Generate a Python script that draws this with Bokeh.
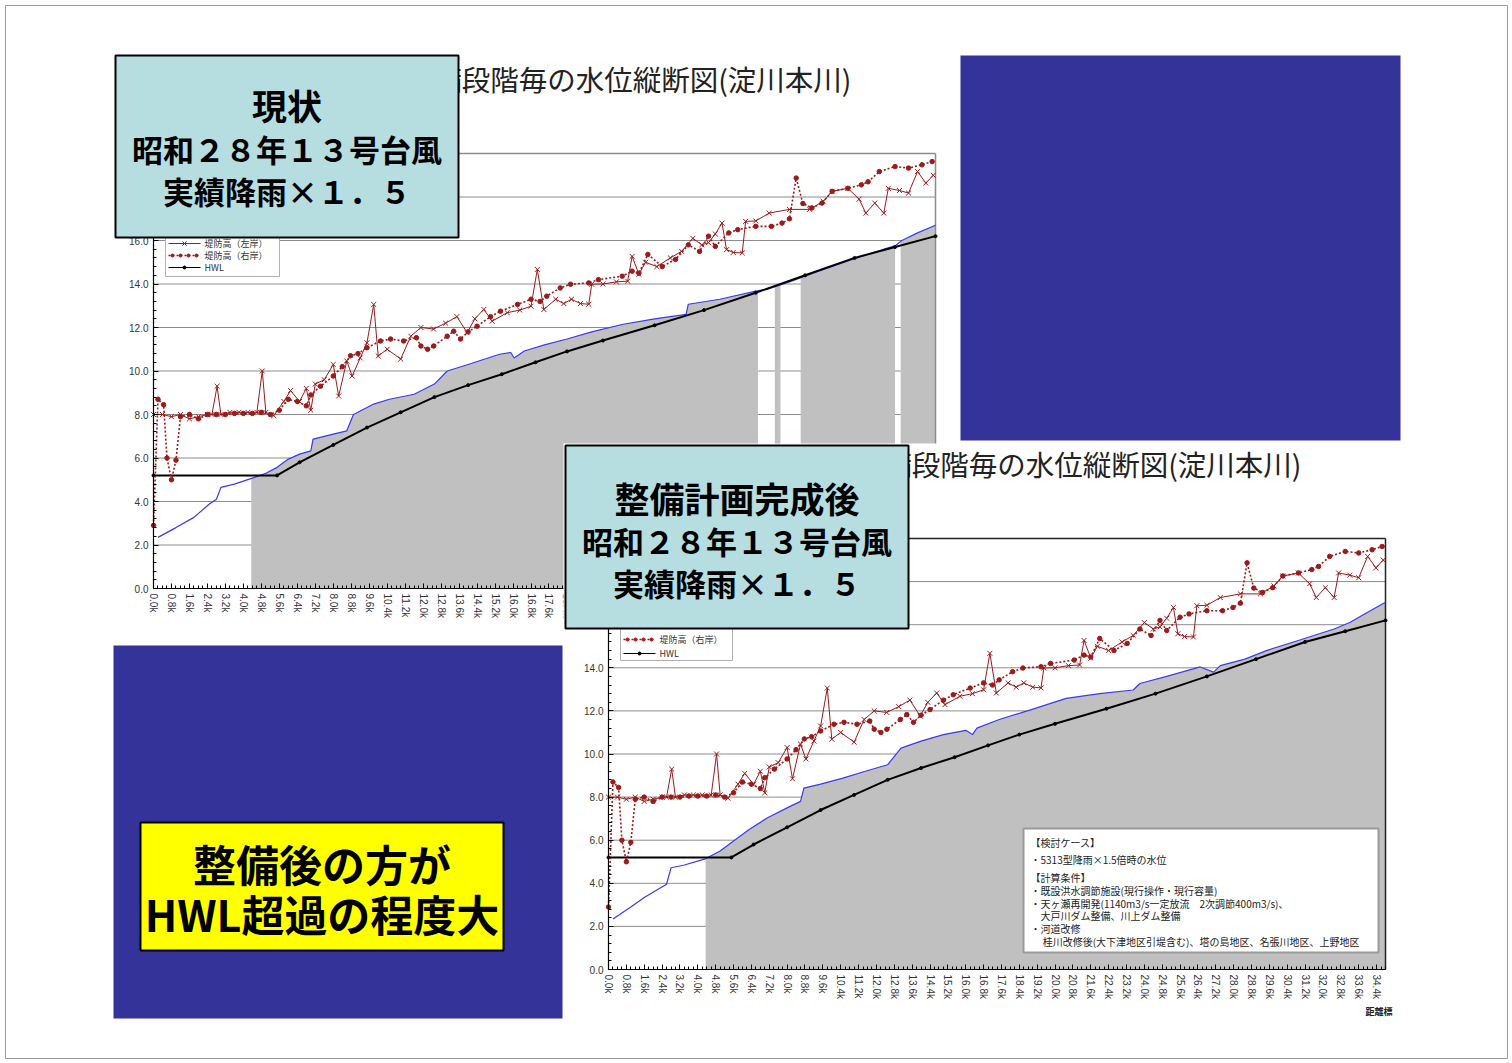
import numpy as np
from bokeh.plotting import figure
from bokeh.models import Range1d, LinearAxis, FixedTicker, PrintfTickFormatter
from bokeh.core.properties import value
from bokeh.embed import file_html
from bokeh.resources import INLINE

# ---------------- data ----------------
# 堤防高（左岸）
left_km = [0.0, 0.4, 0.8, 1.2, 1.6, 2.0, 2.4, 2.6, 2.83, 3.0, 3.4, 3.8, 4.2, 4.6, 4.84, 5.0, 5.35, 5.8, 6.1, 6.5,
           6.8, 7.0, 7.2, 7.6, 8.0, 8.24, 8.6, 8.84, 9.2, 9.5, 9.8, 10.0, 10.4, 11.0, 11.45, 11.9, 12.46, 13.0, 13.5, 13.96,
           14.3, 14.7, 15.07, 15.74, 16.3, 16.8, 17.08, 17.37, 17.9, 18.26, 18.6, 19.0, 19.37, 19.5, 20.0, 20.6, 21.1, 21.3, 21.6, 21.9,
           22.4, 23.0, 23.5, 24.0, 24.4, 24.7, 25.0, 25.3, 25.5, 25.8, 26.2, 26.35, 26.8, 27.4, 28.3, 29.2, 29.8, 30.2, 30.9, 31.4,
           31.7, 32.1, 32.5, 32.7, 33.2, 33.6, 34.0, 34.37, 34.7]
left_bank = [8.0, 8.0, 7.9, 8.0, 7.8, 7.9, 8.0, 8.0, 9.3, 8.0, 8.1, 8.1, 8.1, 8.1, 10.0, 8.1, 7.95, 8.6, 9.1, 8.6,
             9.2, 8.2, 9.4, 9.6, 10.3, 8.85, 10.46, 9.77, 10.6, 11.3, 13.06, 10.69, 11.0, 10.55, 11.6, 12.0, 11.93, 12.2, 12.5, 11.76,
             12.4, 12.83, 12.29, 12.68, 12.8, 12.98, 14.67, 12.83, 13.3, 13.1, 13.3, 13.1, 13.07, 13.99, 14.0, 14.1, 14.13, 15.27, 14.45, 15.0,
             14.8, 15.2, 15.5, 16.1, 15.8, 15.9, 16.3, 16.8, 15.58, 15.45, 15.43, 16.88, 16.9, 17.26, 17.43, 17.43, 17.8, 18.26, 18.4, 17.9,
             17.26, 17.72, 17.26, 18.4, 18.3, 18.18, 19.17, 18.64, 19.0]

# 堤防高（右岸）
right_km = [0.0, 0.2, 0.45, 0.6, 0.8, 1.0, 1.2, 1.6, 2.0, 2.4, 2.8, 3.2, 3.6, 4.0, 4.4, 4.8, 5.2, 5.6, 6.0, 6.4,
            6.8, 7.0, 7.43, 8.0, 8.4, 8.77, 9.1, 9.5, 10.1, 10.55, 11.13, 11.7, 11.9, 12.2, 12.47, 13.07, 13.36, 13.66, 14.0, 14.4,
            15.0, 15.44, 16.2, 16.8, 17.2, 17.5, 18.1, 18.56, 19.37, 19.8, 20.86, 21.3, 21.6, 22.0, 22.64, 23.23, 23.8, 24.3, 24.7, 25.0,
            25.6, 26.0, 26.8, 27.5, 27.97, 28.3, 28.6, 28.9, 29.3, 29.75, 30.2, 30.9, 31.5, 31.8, 32.3, 33.0, 33.6, 34.2, 34.65]
right_bank = [2.9, 8.7, 8.45, 6.0, 5.0, 5.9, 7.9, 8.0, 7.8, 8.0, 8.0, 8.0, 8.05, 8.05, 8.05, 8.1, 8.0, 8.2, 8.7, 8.6,
              8.4, 8.9, 9.3, 9.77, 10.2, 10.7, 10.8, 11.07, 11.38, 11.47, 11.38, 11.53, 11.15, 11.0, 11.15, 11.6, 11.83, 11.47, 11.8, 12.06,
              12.5, 12.75, 13.06, 13.3, 13.2, 13.44, 13.82, 13.99, 14.05, 14.2, 14.36, 14.59, 14.5, 15.36, 14.8, 15.13, 15.8, 15.5, 16.2, 15.73,
              16.35, 16.5, 16.65, 16.65, 16.8, 17.0, 18.87, 17.7, 17.5, 17.72, 18.26, 18.4, 18.56, 18.7, 19.17, 19.4, 19.33, 19.48, 19.63]

# HWL
hwl_km = [0.0, 5.5, 6.5, 8.0, 9.5, 11.0, 12.5, 14.0, 15.5, 17.0, 18.4, 20.0, 22.3, 24.5, 26.8, 29.0, 31.2, 33.0, 34.8]
hwl = [5.2, 5.2, 5.8, 6.6, 7.4, 8.1, 8.8, 9.35, 9.85, 10.4, 10.9, 11.4, 12.1, 12.8, 13.6, 14.4, 15.2, 15.7, 16.2]

# 計算水位（現状）
wl_now_km = [0.2, 1.0, 1.8, 2.5, 2.8, 3.0, 3.6, 4.3, 5.0, 5.5, 6.0, 6.5, 7.0, 7.1, 8.0, 8.6, 8.9, 9.8, 10.5, 11.6,
             12.5, 13.07, 14.0, 15.4, 15.9, 16.05, 16.5, 17.4, 18.4, 19.5, 20.9, 22.3, 23.7, 23.8, 25.2, 26.8, 27.3, 28.3, 29.5, 31.0,
             32.5, 33.0, 33.3, 34.0, 34.8]
wl_now = [2.35, 2.8, 3.27, 3.9, 4.1, 4.65, 4.8, 5.04, 5.3, 5.57, 5.95, 6.18, 6.33, 6.87, 7.1, 7.25, 8.0, 8.48, 8.7, 8.93,
          9.4, 10.0, 10.3, 10.77, 10.85, 10.6, 10.92, 11.2, 11.47, 11.8, 12.15, 12.4, 12.6, 13.07, 13.3, 13.67, 13.75, 14.1, 14.55, 15.1,
          15.6, 15.75, 16.0, 16.35, 16.7]

# 計算水位（整備計画完成後）
wl_plan_km = [0.2, 1.0, 1.6, 2.6, 2.8, 3.4, 4.3, 5.0, 5.6, 6.3, 7.1, 8.0, 8.6, 8.75, 9.5, 10.5, 11.5, 12.5, 13.1, 14.0,
              15.0, 16.0, 16.3, 16.5, 17.5, 18.9, 20.5, 22.0, 23.5, 23.8, 25.0, 26.5, 27.1, 27.4, 28.5, 29.5, 31.0, 32.5, 33.2, 34.0,
              34.8]
wl_plan = [2.34, 2.9, 3.34, 3.96, 4.72, 4.85, 5.12, 5.5, 5.96, 6.5, 7.03, 7.5, 7.8, 8.42, 8.6, 8.88, 9.2, 9.5, 10.27, 10.6,
           10.9, 11.1, 10.9, 11.2, 11.6, 12.05, 12.58, 12.8, 12.97, 13.27, 13.6, 14.04, 13.8, 14.1, 14.4, 14.81, 15.3, 15.8, 16.1, 16.58,
           17.04]

# shaded (gray) sections, km
gray_now = [(4.35, 26.9), (27.65, 27.9), (28.8, 33.0), (33.25, 34.8)]
gray_plan = [(4.35, 34.8)]

x_ticks = [round(0.8 * i, 1) for i in range(44)]
x_minor = [round(0.2 * i, 1) for i in range(175)]
y_ticks = [0, 2, 4, 6, 8, 10, 12, 14, 16, 18, 20]
y_minor = [round(0.4 * i, 1) for i in range(51)]
KM_MAX, Y_MAX = 34.8, 20.0

title_text = "整備段階毎の水位縦断図(淀川本川)"
legend_names = ["堤防高（左岸）", "堤防高（右岸）", "HWL"]
box1_lines = ["現状", "昭和２８年１３号台風", "実績降雨×１．５"]
box2_lines = ["整備計画完成後", "昭和２８年１３号台風", "実績降雨×１．５"]
yellow_lines = ["整備後の方が", "HWL超過の程度大"]
note_lines = ["【検討ケース】", "・5313型降雨×1.5倍時の水位", "【計算条件】",
              "・既設洪水調節施設(現行操作・現行容量)",
              "・天ヶ瀬再開発(1140m3/s一定放流　2次調節400m3/s)、",
              "　大戸川ダム整備、川上ダム整備", "・河道改修",
              "　 桂川改修後(大下津地区引堤含む)、塔の島地区、名張川地区、上野地区"]

# ---------------- page ----------------
W, H = 1512, 1063
JP = "Noto Sans CJK JP"
RED = "#9b1b1b"
BLUE_BOX = "#333399"
CYAN = "#b6dde0"

p = figure(width=W, height=H, x_range=Range1d(0, W), y_range=Range1d(H, 0),
           output_backend="svg", toolbar_location=None, min_border=0,
           x_axis_type=None, y_axis_type=None)
p.outline_line_color = None
p.background_fill_color = "white"
p.border_fill_color = "white"

# slide border
p.quad(left=5, right=1507, top=5, bottom=1058, fill_color=None, line_color="#9a9a9a", line_width=1)


def add_chart_ranges(tag, left, right, bottom, top):
    sx = (right - left) / KM_MAX
    sy = (bottom - top) / Y_MAX
    p.extra_x_ranges[tag + "x"] = Range1d(-left / sx, (W - left) / sx)
    p.extra_y_ranges[tag + "y"] = Range1d((bottom - H) / sy, bottom / sy)


def draw_chart(tag, wl_km, wl, segments, level, axis_level, frame_color):
    kw = dict(x_range_name=tag + "x", y_range_name=tag + "y", level=level)
    gy = y_ticks[1:-1]
    p.segment(x0=0, y0=gy, x1=KM_MAX, y1=gy, line_color="#8c8c8c", line_width=1, **kw)
    for a, b in segments:
        xs = [a] + [k for k in wl_km if a < k < b] + [b]
        ys = list(np.interp(xs, wl_km, wl))
        p.varea(x=xs, y1=0, y2=ys, fill_color="#c0c0c0", **kw)
    p.segment(x0=[0, KM_MAX], y0=[Y_MAX, 0], x1=[KM_MAX, KM_MAX], y1=[Y_MAX, Y_MAX],
              line_color=frame_color, line_width=1.5, **kw)
    p.line(wl_km, wl, line_color="#3a3af0", line_width=1.2, **kw)
    p.line(hwl_km, hwl, line_color="black", line_width=2, **kw)
    p.scatter(hwl_km, hwl, marker="circle", size=3, color="black", **kw)
    p.line(right_km, right_bank, line_color=RED, line_width=1.6, line_dash="2 2", **kw)
    p.scatter(right_km, right_bank, marker="circle", size=4.5, color=RED, **kw)
    p.line(left_km, left_bank, line_color=RED, line_width=1, **kw)
    p.scatter(left_km, left_bank, marker="x", size=7, line_color=RED, line_width=1, **kw)

    yax = LinearAxis(x_range_name=tag + "x", y_range_name=tag + "y", fixed_location=0,
                     bounds=(0, Y_MAX), ticker=FixedTicker(ticks=y_ticks, minor_ticks=y_minor),
                     formatter=PrintfTickFormatter(format="%.1f"))
    xax = LinearAxis(x_range_name=tag + "x", y_range_name=tag + "y", fixed_location=0,
                     bounds=(0, KM_MAX), ticker=FixedTicker(ticks=x_ticks, minor_ticks=x_minor),
                     formatter=PrintfTickFormatter(format="%.1fk"),
                     major_label_orientation=-np.pi / 2)
    for ax in (yax, xax):
        ax.level = axis_level
        ax.axis_line_color = "black"
        ax.axis_line_width = 1.2
        ax.major_tick_in = 5
        ax.major_tick_out = 0
        ax.minor_tick_in = 3
        ax.minor_tick_out = 0
        ax.major_tick_line_color = "black"
        ax.minor_tick_line_color = "black"
        ax.major_label_text_font = "Liberation Sans"
        ax.major_label_text_font_size = "10px"
        ax.major_label_text_color = "#333333"
        ax.major_label_standoff = 5
    p.add_layout(yax, "left")
    p.add_layout(xax, "below")


def draw_legend(x0, y_rows, box, level):
    l, r, t, b = box
    p.quad(left=l, right=r, top=t, bottom=b, fill_color="white", line_color="#b0b0b0", level=level)
    styles = [dict(line_color=RED, line_width=1), dict(line_color=RED, line_width=1.6, line_dash="2 2"),
              dict(line_color="black", line_width=1)]
    for yy, st in zip(y_rows, styles):
        p.line([x0, x0 + 32], [yy, yy], level=level, **st)
    p.scatter([x0 + 16], [y_rows[0]], marker="x", size=6, line_color=RED, level=level)
    p.scatter([x0 + 4, x0 + 12, x0 + 20, x0 + 28], [y_rows[1]] * 4, marker="circle", size=3, color=RED, level=level)
    p.scatter([x0 + 16], [y_rows[2]], marker="circle", size=3, color="black", level=level)
    p.text(x=[x0 + 36] * 3, y=y_rows, text=legend_names, text_font=value(JP), text_font_size="9px",
           text_color="#333333", text_baseline="middle", level=level)


def label_box(cx, rect, ys, lines, level):
    l, r, t, b = rect
    p.quad(left=l, right=r, top=t, bottom=b, fill_color=CYAN, line_color="black", line_width=2, level=level)
    p.text(x=[cx], y=[ys[0]], text=[lines[0]], text_font=value(JP), text_font_style="bold",
           text_font_size="35px", text_color="black", text_align="center", text_baseline="middle", level=level)
    p.text(x=[cx] * 2, y=ys[1:], text=lines[1:], text_font=value(JP), text_font_style="bold",
           text_font_size="31px", text_color="black", text_align="center", text_baseline="middle", level=level)


# ---------- top chart (現状) ----------
add_chart_ranges("a", 153, 935, 588, 153)
draw_chart("a", wl_now_km, wl_now, gray_now, "glyph", "guide", "#8c8c8c")
p.text(x=[851], y=[78], text=[title_text], text_font=value(JP), text_font_size="28.5px",
       text_color="#222222", text_align="right", text_baseline="middle")
draw_legend(168, [243, 255, 267], (165, 279, 205, 276), "glyph")

# top-right blue panel
p.quad(left=960, right=1400, top=55, bottom=440, fill_color=BLUE_BOX, line_color=None)

# label box 1
label_box(286.5, (115, 458, 55, 237), [104, 148, 190], box1_lines, "annotation")

# ---------- bottom chart (整備計画完成後) ----------
p.quad(left=563, right=1405, top=443, bottom=1025, fill_color="white", line_color=None, level="annotation")
add_chart_ranges("b", 608, 1385, 969, 538)
draw_chart("b", wl_plan_km, wl_plan, gray_plan, "annotation", "annotation", "#222222")
p.text(x=[1301], y=[463], text=[title_text], text_font=value(JP), text_font_size="28.5px",
       text_color="#222222", text_align="right", text_baseline="middle", level="annotation")
draw_legend(623, [624, 639, 653], (620, 732, 590, 660), "annotation")

# notes box
p.quad(left=1023, right=1378, top=828, bottom=952, fill_color="white", line_color="#9a9a9a", line_width=2,
       level="annotation")
p.text(x=[1030] * len(note_lines), y=[842, 859, 877, 890, 903, 915, 928, 941], text=note_lines,
       text_font=value(JP), text_font_size="10px", text_color="#222222", text_baseline="middle",
       level="annotation")
p.text(x=[1392], y=[1011], text=["距離標"], text_font=value(JP), text_font_size="9px", text_font_style="bold",
       text_color="#222222", text_align="right", text_baseline="middle", level="annotation")

# label box 2
label_box(736.5, (565, 908, 445, 628), [497, 540, 582], box2_lines, "overlay")

# bottom-left blue panel and yellow box
p.quad(left=113, right=562, top=645, bottom=1018, fill_color=BLUE_BOX, line_color=None, level="overlay")
p.quad(left=140, right=503, top=822, bottom=950, fill_color="#ffff00", line_color="black", line_width=2,
       level="overlay")
p.text(x=[321.5] * 2, y=[862, 912], text=yellow_lines, text_font=value(JP), text_font_style="bold",
       text_font_size="43px", text_color="black", text_align="center", text_baseline="middle",
       level="overlay")

open("out.html", "w").write(file_html(p, INLINE))
